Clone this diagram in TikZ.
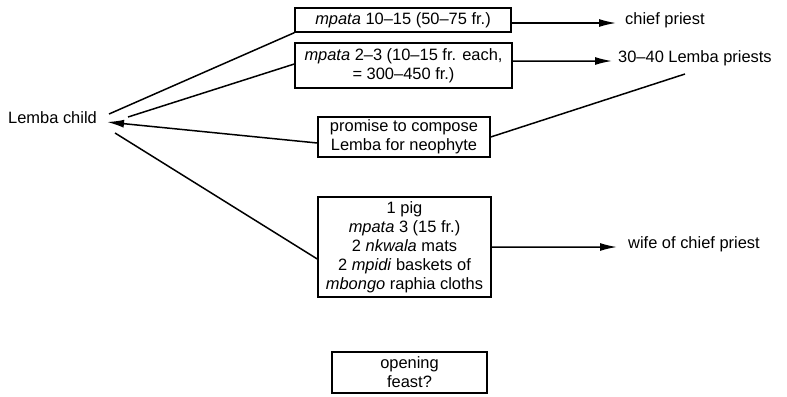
\documentclass[tikz,border=0pt]{standalone}
\usepackage{fontspec}
\setmainfont{Liberation Sans}
\usetikzlibrary{arrows.meta}
\tikzset{
  txt/.style={font=\fontsize{16.5}{19}\selectfont, inner sep=0pt},
  gift/.style={txt, draw, line width=1.4bp, align=center},
  link/.style={line width=1.5bp},
  give/.style={link, -{Latex[length=17bp,width=8bp]}},
}
\begin{document}
\begin{tikzpicture}[x=1bp, y=-1bp]
\useasboundingbox (0,0) rectangle (787,396);

% recipient and giver labels
\node[txt, anchor=west] (child) at (8,118) {Lemba child};
\node[txt, anchor=west] (chief) at (625,20) {chief priest};
\node[txt, anchor=west] (priests) at (618,58) {30--40 Lemba priests};
\node[txt, anchor=west] (wife) at (628,244) {wife of chief priest};

% payments and services
\node[gift, minimum width=216bp, minimum height=24bp] (b1) at (403,20)
  {\textit{mpata} 10--15 (50--75 fr.)};
\node[gift, minimum width=217bp, minimum height=45bp] (b2) at (403.5,65.5)
  {\textit{mpata} 2--3 (10--15 fr. each,\\ = 300--450 fr.)};
\node[gift, minimum width=172bp, minimum height=40bp] (b3) at (404,137)
  {promise to compose\\Lemba for neophyte};
\node[gift, minimum width=173bp, minimum height=100bp] (b4) at (404.5,247)
  {1 pig\\\textit{mpata} 3 (15 fr.)\\2 \textit{nkwala} mats\\2 \textit{mpidi} baskets of\\\textit{mbongo} raphia cloths};
\node[gift, minimum width=155bp, minimum height=41bp] (b5) at (409.5,372.5)
  {opening\\feast?};

\coordinate (pr) at (685,74);

% flows out of the child's family
\draw[link] ([xshift=12bp,yshift=4bp]child.east) -- (b1.south west);
\draw[link] ([xshift=31bp,yshift=1bp]child.east) -- ([yshift=1.5bp]b2.west);
\draw[give] ([yshift=-6bp]b3.west) -- ([xshift=10bp,yshift=-4bp]child.east);
\draw[link] ([xshift=18bp,yshift=-15bp]child.east) -- ([yshift=-12bp]b4.west);

% flows on to the priests
\draw[give] ([yshift=-3bp]b1.east) -- ([xshift=-9bp,yshift=-3bp]chief.west);
\draw[give] ([yshift=4.5bp]b2.east) -- ([xshift=-6bp,yshift=-3bp]priests.west);
\draw[link] (b3.east) -- (pr);
\draw[give] (b4.east) -- ([xshift=-11bp,yshift=-3bp]wife.west);
\end{tikzpicture}
\end{document}
